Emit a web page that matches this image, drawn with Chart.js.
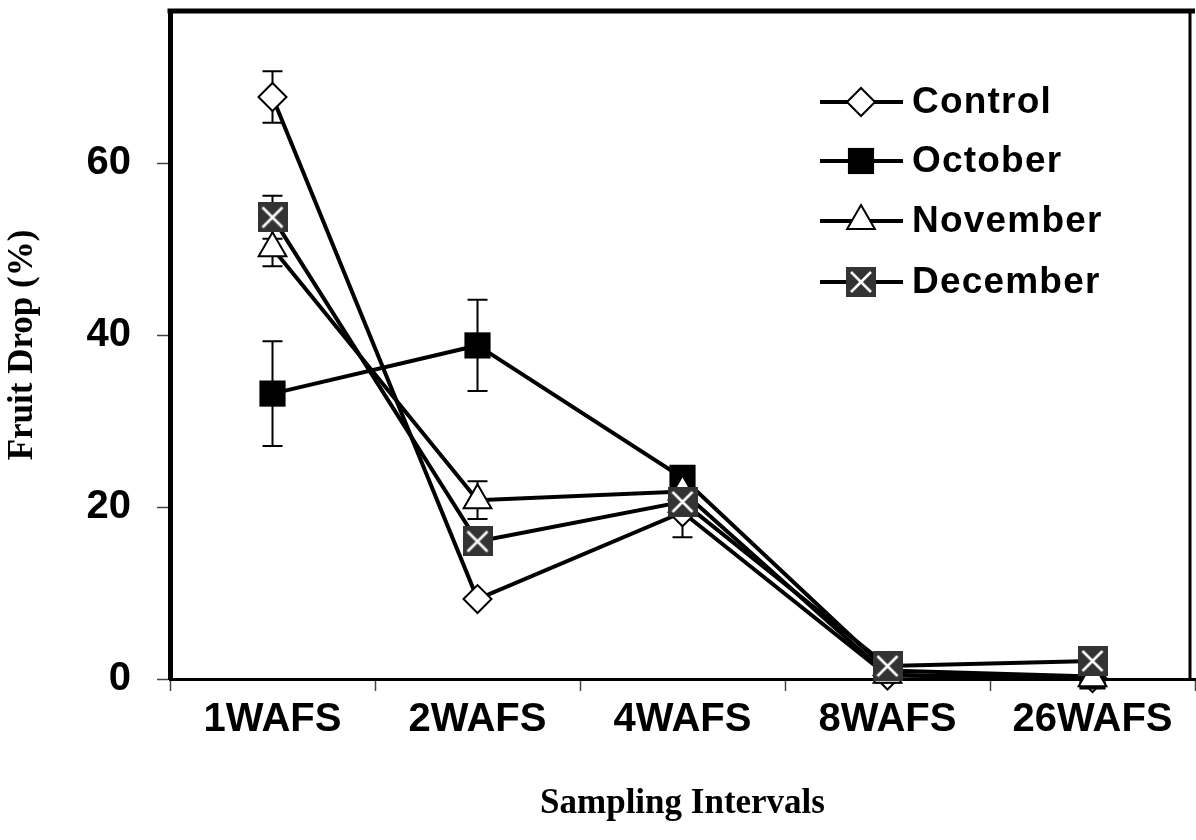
<!DOCTYPE html>
<html lang="en">
<head>
  <meta charset="UTF-8" />
  <title>Fruit Drop</title>
  <script src="https://cdn.jsdelivr.net/npm/chart.js"></script>
  <style>
    body { margin: 0; background: #fff; }
    #wrap { width: 1196px; height: 840px; }
  </style>
</head>
<body>
  <div id="wrap"><canvas id="chart" width="1196" height="840"></canvas></div>
  <script>
    // data
    const categories = ['1WAFS', '2WAFS', '4WAFS', '8WAFS', '26WAFS'];
    const seriesNames = ['Control', 'October', 'November', 'December'];
    const control = [67.7, 9.3, 19.4, 0.4, 0.1];
    const october = [33.2, 38.8, 23.4, 1.0, 0.3];
    const november = [50.1, 20.8, 21.8, 0.5, 0.1];
    const december = [53.7, 16.0, 20.6, 1.5, 2.1];
    const controlErr = [3.0, 0, 2.9, 0, 0];
    const octoberErr = [6.1, 5.3, 0, 0, 0];
    const novemberErr = [2.1, 2.2, 0, 0, 0];
    const decemberErr = [2.5, 0, 0, 0, 0];
    const yTicks = [0, 20, 40, 60];

    // December marker: dark square with a white cross
    function crossBox(size) {
      const c = document.createElement('canvas');
      c.width = size; c.height = size;
      const g = c.getContext('2d');
      g.fillStyle = '#333333';
      g.fillRect(0, 0, size, size);
      g.strokeStyle = '#ffffff';
      g.lineWidth = 2.5;
      g.beginPath();
      g.moveTo(5, 5); g.lineTo(size - 5, size - 5);
      g.moveTo(size - 5, 5); g.lineTo(5, size - 5);
      g.stroke();
      return c;
    }
    const decMarker = crossBox(30);

    const markers = [
      { pointStyle: 'rectRot', radius: 14, bg: '#ffffff', border: 2 },
      { pointStyle: 'rect', radius: 18.5, bg: '#000000', border: 0 },
      { pointStyle: 'triangle', radius: 16, bg: '#ffffff', border: 2 },
      { pointStyle: decMarker, radius: 15, bg: '#333333', border: 0 }
    ];
    const values = [control, october, november, december];
    const errors = [controlErr, octoberErr, novemberErr, decemberErr];

    const datasets = seriesNames.map((name, i) => ({
      label: name,
      data: values[i],
      borderColor: '#000',
      borderWidth: 4,
      pointStyle: markers[i].pointStyle,
      pointRadius: markers[i].radius,
      pointBackgroundColor: markers[i].bg,
      pointBorderColor: '#000',
      pointBorderWidth: markers[i].border,
      tension: 0,
      clip: false,
      order: 4 - i
    }));

    // error bars under the markers
    const errorBars = {
      id: 'errorBars',
      beforeDatasetsDraw(chart) {
        const { ctx, scales: { x, y } } = chart;
        ctx.save();
        ctx.strokeStyle = '#000';
        ctx.lineWidth = 2;
        errors.forEach((errs, i) => {
          errs.forEach((e, j) => {
            if (!e) return;
            const px = x.getPixelForValue(j);
            const top = y.getPixelForValue(values[i][j] + e);
            const bot = y.getPixelForValue(values[i][j] - e);
            ctx.beginPath();
            ctx.moveTo(px, top); ctx.lineTo(px, bot);
            ctx.moveTo(px - 10, top); ctx.lineTo(px + 10, top);
            ctx.moveTo(px - 10, bot); ctx.lineTo(px + 10, bot);
            ctx.stroke();
          });
        });
        ctx.restore();
      }
    };

    // plot frame + legend in the upper right
    const frameAndLegend = {
      id: 'frameAndLegend',
      afterDraw(chart) {
        const { ctx, chartArea: a } = chart;
        ctx.save();
        ctx.strokeStyle = '#000';
        ctx.lineWidth = 5;
        ctx.beginPath();
        ctx.moveTo(a.left - 2.5, a.top);
        ctx.lineTo(a.right, a.top);
        ctx.stroke();
        ctx.lineWidth = 3;
        ctx.beginPath();
        ctx.moveTo(a.right - 5, a.top);
        ctx.lineTo(a.right - 5, a.bottom);
        ctx.stroke();

        const rows = [102, 161, 221, 282];
        seriesNames.forEach((name, i) => {
          const cy = rows[i];
          ctx.strokeStyle = '#000';
          ctx.lineWidth = 4;
          ctx.beginPath();
          ctx.moveTo(820, cy); ctx.lineTo(903, cy);
          ctx.stroke();
          const m = markers[i];
          ctx.fillStyle = m.bg;
          ctx.strokeStyle = '#000';
          ctx.lineWidth = m.border;
          Chart.helpers.drawPoint(ctx, {
            pointStyle: m.pointStyle, radius: m.radius, rotation: 0, borderWidth: m.border
          }, 861, cy);
          ctx.fillStyle = '#000';
          ctx.font = 'bold 37px "Liberation Sans", Arial, sans-serif';
          ctx.letterSpacing = '1.2px';
          ctx.textAlign = 'left';
          ctx.textBaseline = 'middle';
          ctx.fillText(name, 912, cy + 1);
        });
        ctx.restore();
      }
    };

    new Chart(document.getElementById('chart'), {
      type: 'line',
      data: { labels: categories, datasets: datasets },
      plugins: [errorBars, frameAndLegend],
      options: {
        responsive: false,
        animation: false,
        layout: { autoPadding: false, padding: { left: 0, top: 11, right: 1, bottom: 0 } },
        plugins: {
          legend: { display: false },
          tooltip: { enabled: false }
        },
        scales: {
          x: {
            offset: true,
            afterFit(s) { s.height = 161; s.paddingLeft = 0; s.paddingRight = 0; },
            grid: {
              offset: true,
              drawOnChartArea: false,
              tickLength: 12,
              tickColor: '#444',
              tickWidth: 1.5
            },
            border: { color: '#000', width: 3 },
            ticks: {
              color: '#000',
              padding: 5,
              font: { family: '"Liberation Sans", Arial, sans-serif', size: 40, weight: 'bold' }
            },
            title: {
              display: true,
              text: 'Sampling Intervals',
              color: '#000',
              padding: { top: 0, bottom: 15 },
              font: { family: '"Liberation Serif", "Times New Roman", serif', size: 35, weight: 'bold' }
            }
          },
          y: {
            min: 0,
            max: 77.7,
            afterFit(s) { s.width = 170; s.paddingTop = 0; s.paddingBottom = 0; },
            grid: {
              drawOnChartArea: false,
              tickLength: 13,
              tickColor: '#444',
              tickWidth: 1.5
            },
            border: { color: '#000', width: 5 },
            ticks: {
              stepSize: 20,
              includeBounds: false,
              padding: 26,
              color: '#000',
              callback: (v) => yTicks.includes(v) ? v : '',
              font: { family: '"Liberation Sans", Arial, sans-serif', size: 40, weight: 'bold' }
            },
            title: {
              display: true,
              text: 'Fruit Drop (%)',
              color: '#000',
              padding: { top: 2, bottom: 0 },
              font: { family: '"Liberation Serif", "Times New Roman", serif', size: 35, weight: 'bold' }
            }
          }
        }
      }
    });
  </script>
</body>
</html>
